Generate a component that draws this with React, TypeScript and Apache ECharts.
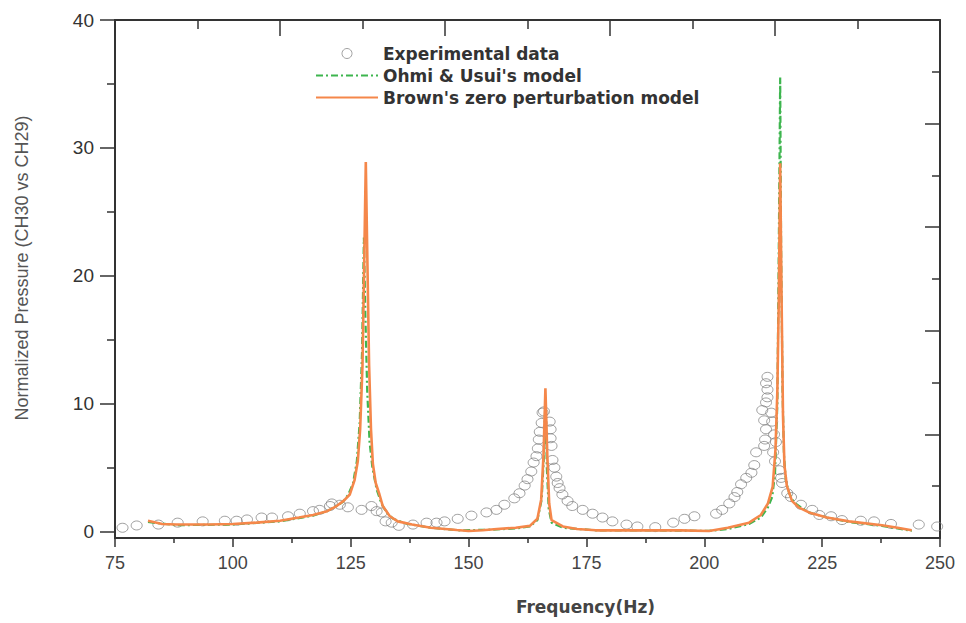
import React, { useEffect, useRef } from "react";
import * as echarts from "echarts";

const xTicks = [75, 100, 125, 150, 175, 200, 225, 250];
const yTickLabels = [0, 10, 20, 30, 40];
const yMinorTicks = [5, 15, 25, 35];

const legendNames = [
  "Experimental data",
  "Ohmi & Usui's model",
  "Brown's zero perturbation model",
];

const experimentalData: number[][] = [
  [76.6, 0.3], [79.6, 0.48], [84.2, 0.55], [88.3, 0.7], [93.6, 0.8], [98.3, 0.85],
  [100.8, 0.85], [103, 0.95], [106.1, 1.1], [108.3, 1.1], [111.7, 1.2], [114.2, 1.4],
  [117, 1.6], [118.4, 1.7], [120.6, 2.0], [121, 2.2], [122.7, 2.1], [124.4, 1.9],
  [127.3, 1.7], [129.4, 2.0], [130.5, 1.6], [131.6, 1.5], [132.4, 0.8], [133.7, 0.7],
  [135.2, 0.45], [138.2, 0.55], [141.1, 0.7], [143.2, 0.7], [144.9, 0.8], [147.7, 1.0],
  [150.6, 1.25], [153.8, 1.5], [155.9, 1.7], [157.6, 2.1], [159.7, 2.6], [160.8, 3.0],
  [161.9, 3.6], [162.5, 4.1], [163.3, 4.7], [163.8, 5.4], [164.4, 5.9], [164.7, 6.5],
  [164.9, 7.2], [165.1, 7.8], [165.5, 8.5], [165.7, 9.3], [166.0, 9.4], [167.2, 8.6],
  [167.4, 8.0], [167.4, 7.3], [167.6, 6.7], [167.8, 5.6], [168.2, 5.0], [168.6, 4.3],
  [168.9, 3.8], [169.3, 3.4], [169.9, 2.9], [171, 2.4], [172, 2.0], [174.2, 1.7],
  [176.3, 1.4], [178.4, 1.1], [180.5, 0.8], [183.5, 0.55], [185.8, 0.4], [189.6, 0.35],
  [193.4, 0.7], [195.8, 1.0], [197.9, 1.2], [202.5, 1.4], [203.8, 1.7], [205.3, 2.2],
  [206.4, 2.7], [207, 3.1], [207.8, 3.7], [208.9, 4.2], [210, 4.6], [210.6, 5.2],
  [211, 6.2], [212.7, 6.7], [212.9, 7.2], [213.1, 8.0], [212.7, 8.7], [212.3, 9.5],
  [213.1, 10.1], [213.4, 10.5], [213.4, 11.1], [213.1, 11.6], [213.4, 12.1], [214.2, 9.3],
  [214.4, 8.6], [214.8, 7.6], [215.2, 7.0], [214.6, 6.2], [215, 5.5], [215.9, 4.8],
  [216.3, 4.2], [216.5, 3.8], [217.6, 3.0], [218.4, 2.7], [220.5, 2.1], [222.9, 1.7],
  [224.4, 1.3], [226.9, 1.2], [229.2, 0.9], [233.2, 0.85], [236, 0.8], [239.6, 0.6],
  [245.5, 0.55], [249.4, 0.4],
];

const ohmiModel: number[][] = [
  [82, 0.75], [88, 0.5], [100, 0.55], [110, 0.8], [117, 1.25], [120, 1.6], [122, 2.0],
  [123.3, 2.3], [124.5, 2.9], [125.5, 3.8], [126.3, 5.5], [126.9, 8.5], [127.4, 14],
  [127.8, 23], [128.1, 17], [128.5, 11], [129, 7], [129.6, 5], [130.5, 3.3], [131.5, 2.2],
  [132.6, 1.5], [134, 1.0], [137, 0.6], [142, 0.3], [148, 0.1], [155, 0.15], [160, 0.25],
  [163, 0.4], [164.6, 0.9], [165.5, 2.5], [166, 6], [166.3, 10.5], [166.6, 5], [167, 1.8],
  [167.6, 0.7], [170, 0.3], [177, 0.1], [195, 0.08], [201, 0.05], [205, 0.2], [209.5, 0.6],
  [212, 1.1], [213.5, 1.9], [214.4, 2.7], [215.0, 4.5], [215.5, 10], [215.8, 22],
  [216.1, 35.5], [216.3, 22], [216.6, 11], [216.9, 6], [217.3, 4], [218, 3], [219, 2.3],
  [220.5, 1.9], [222.2, 1.5], [226, 1.1], [230.7, 0.75], [237.7, 0.45], [241, 0.25],
  [244, 0.05],
];

const brownModel: number[][] = [
  [82, 0.85], [85, 0.6], [88, 0.55], [95, 0.55], [100, 0.6], [105, 0.7], [110, 0.85],
  [114, 1.1], [117, 1.3], [120, 1.6], [122, 2.0], [123.5, 2.4], [124.8, 2.9], [125.8, 4.0],
  [126.5, 5.5], [127.0, 8.0], [127.5, 13], [127.9, 22], [128.2, 28.9], [128.5, 22],
  [128.9, 13], [129.3, 8], [129.7, 5.3], [130.3, 3.8], [131.1, 2.9], [131.8, 2.0],
  [133.3, 1.2], [135, 0.8], [138, 0.55], [142, 0.3], [147.5, 0.12], [150, 0.05],
  [153, 0.1], [156, 0.2], [160, 0.3], [163, 0.45], [164.6, 1.0], [165.4, 2.5], [165.9, 6],
  [166.3, 11.2], [166.7, 6], [167.1, 2.2], [167.6, 0.9], [170, 0.4], [173, 0.2], [177, 0.1],
  [185, 0.1], [195, 0.1], [201, 0.05], [205, 0.3], [209.5, 0.7], [212, 1.3], [213.5, 2.2],
  [214.5, 3.5], [215.1, 6.4], [215.5, 11], [215.8, 18], [216.1, 28.8], [216.4, 18],
  [216.7, 9], [217, 5.2], [217.5, 3.6], [218.6, 2.4], [220, 1.9], [222.2, 1.5], [226, 1.1],
  [230.7, 0.8], [237.7, 0.5], [241, 0.3], [244, 0.1],
];

const AXIS = "#333";
const GREEN = "#3db54e";
const ORANGE = "#f5874a";

export default function App() {
  const ref = useRef<HTMLDivElement>(null);

  useEffect(() => {
    if (!ref.current) return;
    const chart = echarts.init(ref.current, null, { renderer: "svg" });
    const axisLine = { show: true, onZero: false, lineStyle: { color: AXIS, width: 2 } };
    chart.setOption({
      animation: false,
      backgroundColor: "#fff",
      grid: { left: 115, right: 26, top: 20, bottom: 85 },
      legend: {
        orient: "vertical",
        left: 315,
        top: 45,
        padding: 0,
        itemWidth: 62,
        itemHeight: 10,
        itemGap: 5,
        selectedMode: false,
        data: [
          {
            name: legendNames[0],
            itemStyle: { color: "rgba(255,255,255,0)", borderColor: "#7a7a7a", borderWidth: 0.9 },
          },
          { name: legendNames[1], itemStyle: { opacity: 0 } },
          { name: legendNames[2], itemStyle: { opacity: 0 } },
        ],
        textStyle: {
          fontFamily: "DejaVu Sans",
          fontWeight: "bold",
          fontSize: 17,
          lineHeight: 17,
          color: "#333",
        },
      },
      xAxis: [
        {
          type: "value",
          min: 75,
          max: 250,
          interval: 25,
          position: "bottom",
          axisLine,
          axisTick: { show: true, inside: false, length: 9, lineStyle: { color: AXIS, width: 1.5 } },
          minorTick: { show: true, splitNumber: 2, length: 5, lineStyle: { color: AXIS, width: 1.5 } },
          splitLine: { show: false },
          axisLabel: {
            show: true,
            margin: 16,
            fontFamily: "Liberation Sans",
            fontSize: 18,
            color: "#444",
            customValues: xTicks,
          },
          name: "Frequency(Hz)",
          nameLocation: "middle",
          nameGap: 60,
          nameTextStyle: {
            fontFamily: "DejaVu Sans",
            fontWeight: "bold",
            fontSize: 17,
            color: "#444",
            padding: [0, 0, 0, 116],
          },
        },
        {
          type: "value",
          min: 0,
          max: 10,
          interval: 2,
          position: "top",
          axisLine,
          axisTick: { show: true, inside: true, length: 16, lineStyle: { color: AXIS, width: 1.5 } },
          minorTick: { show: true, splitNumber: 2, length: 9, lineStyle: { color: AXIS, width: 1.5 } },
          splitLine: { show: false },
          axisLabel: { show: false },
        },
      ],
      yAxis: [
        {
          type: "value",
          min: -0.5,
          max: 40,
          position: "left",
          axisLine,
          axisTick: {
            show: true,
            inside: false,
            length: 15,
            customValues: yTickLabels,
            lineStyle: { color: AXIS, width: 1.5 },
          },
          splitLine: { show: false },
          axisLabel: {
            show: true,
            margin: 21,
            customValues: yTickLabels,
            fontFamily: "Liberation Sans",
            fontSize: 19,
            color: "#333",
          },
          name: "Normalized Pressure (CH30 vs CH29)",
          nameLocation: "middle",
          nameGap: 84,
          nameTextStyle: {
            fontFamily: "Liberation Sans",
            fontSize: 18,
            color: "#555",
            padding: [0, 0, 0, 22],
          },
        },
        {
          type: "value",
          min: -0.5,
          max: 40,
          position: "left",
          axisLine,
          axisTick: {
            show: true,
            inside: false,
            length: 8,
            customValues: yMinorTicks,
            lineStyle: { color: AXIS, width: 1.5 },
          },
          splitLine: { show: false },
          axisLabel: { show: false, customValues: yMinorTicks },
        },
        {
          type: "value",
          min: 0,
          max: 10,
          interval: 2,
          position: "right",
          axisLine,
          axisTick: { show: true, inside: true, length: 15, lineStyle: { color: AXIS, width: 1.5 } },
          minorTick: { show: true, splitNumber: 2, length: 8, lineStyle: { color: AXIS, width: 1.5 } },
          splitLine: { show: false },
          axisLabel: { show: false },
        },
      ],
      series: [
        {
          name: legendNames[0],
          type: "scatter",
          xAxisIndex: 0,
          yAxisIndex: 0,
          data: experimentalData,
          symbol: "circle",
          symbolSize: [11, 9],
          itemStyle: { color: "rgba(255,255,255,0)", borderColor: "#7a7a7a", borderWidth: 0.9 },
          z: 3,
        },
        {
          name: legendNames[1],
          type: "line",
          xAxisIndex: 0,
          yAxisIndex: 0,
          data: ohmiModel,
          symbol: "none",
          showSymbol: false,
          itemStyle: { color: GREEN },
          lineStyle: { color: GREEN, width: 2.2, type: [7, 3, 2, 3] },
          z: 4,
        },
        {
          name: legendNames[2],
          type: "line",
          xAxisIndex: 0,
          yAxisIndex: 0,
          data: brownModel,
          symbol: "none",
          showSymbol: false,
          itemStyle: { color: ORANGE },
          lineStyle: { color: ORANGE, width: 2.6 },
          z: 5,
        },
      ],
    });
    return () => chart.dispose();
  }, []);

  return (
    <div
      ref={ref}
      style={{ position: "absolute", left: 0, top: 0, width: 966, height: 623 }}
    />
  );
}
